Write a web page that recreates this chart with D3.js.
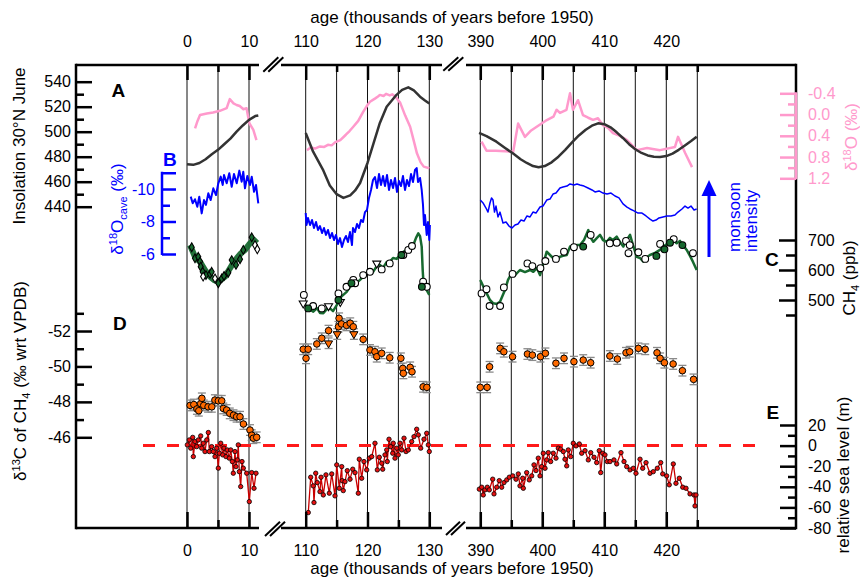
<!DOCTYPE html>
<html><head><meta charset="utf-8">
<script src="https://cdn.jsdelivr.net/npm/d3@7"></script>
<style>body{margin:0;background:#fff} text{font-family:Arial,"Liberation Sans",sans-serif}</style>
</head><body><svg id="c" width="860" height="580"></svg>
<script>
// ---------------- DATA ----------------
const topMajor=[[0,10],[110,120,130],[390,400,410,420]];
const topMinor=[[5],[115,125],[395,405,415,425]];
const gridAges=[0,5,10,110,115,120,125,130,390,395,400,405,410,415,420,425];
const insTicks=[440,460,480,500,520,540];
const blueTicks=[-10,-8,-6];
const pinkTicks=[-0.4,0.0,0.4,0.8,1.2];
const ch4Ticks=[500,600,700];
const d13Ticks=[-52,-50,-48,-46];
const slTicks=[20,0,-20,-40,-60,-80];

const ins1=[[0,474],[1,473.5],[2,475],[3,478],[4,482],[5,485.5],[6,490],[7,494.5],[8,500],[9,505],[10,509.5],[11,512.5],[11.5,513]];
const ins2=[[110,499],[111.2,484],[112.85,469],[113.9,457],[115,450],[116.1,447],[117.2,449],[118,453],[118.8,459],[120,475],[121,491],[122,507],[123.1,520],[124.7,529.5],[125.6,533.5],[126.6,535.5],[127.5,533],[128.5,528],[129.3,525],[130,522.5]];
const ins3=[[389.8,499],[391,496.5],[392.6,492],[394,487],[395.3,482.5],[396.5,478],[397.5,475],[398.5,472.5],[399.4,471.5],[400.4,472.5],[401.5,475.5],[402.6,480],[403.7,485.5],[404.8,491.5],[405.9,497],[407,501.5],[408,504.8],[409,506.7],[410,506],[411,503.5],[412,499.5],[413,495],[414,490],[415,486],[416,483],[417,481],[418,480],[419,479.8],[420,480.5],[421,482.5],[422,485.5],[423,489],[424,492.5],[424.9,496]];

const pink1=[[1.3,0.26],[1.7,0.12],[2.1,0.01],[3.2,-0.02],[4.2,-0.04],[5.3,-0.07],[6.4,-0.12],[6.9,-0.29],[7.5,-0.21],[8.0,-0.18],[8.5,-0.16],[9.1,-0.1],[9.6,-0.12],[10.05,0.16],[10.7,0.29],[11.2,0.48]];
const pink2=[[110.2,0.67],[110.8,0.62],[111.5,0.64],[112.3,0.6],[113,0.61],[113.6,0.57],[114.2,0.58],[114.8,0.52],[115.6,0.48],[116.5,0.38],[117.1,0.31],[117.7,0.23],[118.5,0.12],[119.3,-0.05],[120,-0.18],[120.4,-0.24],[121.2,-0.3],[121.7,-0.34],[122,-0.37],[122.6,-0.35],[123,-0.39],[123.6,-0.36],[124,-0.38],[124.5,-0.34],[125.3,-0.22],[126.1,0.02],[126.9,0.23],[127.5,0.5],[128,0.73],[128.6,0.9],[129.1,0.98],[130,1.01]];
const pink3=[[390.2,0.51],[391,0.68],[392.5,0.68],[394,0.69],[395.3,0.7],[396.1,0.17],[397.2,0.42],[398.2,0.3],[399.1,0.23],[400.5,0.12],[401.8,0.04],[402.3,-0.09],[402.85,-0.03],[403.9,-0.09],[404.47,-0.40],[404.95,-0.09],[405.76,-0.27],[406.56,0.01],[407.4,0.06],[408.18,0.10],[408.98,0.07],[409.79,0.20],[410.6,0.25],[411.4,0.35],[412.5,0.4],[413.66,0.48],[414.5,0.58],[415.27,0.67],[416.89,0.63],[418.98,0.67],[421.4,0.61],[421.89,0.42],[423.02,0.72],[424.15,0.99]];

const cave1=[[0.6,-9.53],[0.92,-9.12],[1.29,-9.37],[1.66,-8.91],[1.98,-9.53],[2.37,-8.5],[2.74,-9.32],[3.06,-9.02],[3.44,-9.74],[3.82,-9.32],[4.24,-10.04],[4.68,-9.63],[5.05,-10.35],[5.44,-10.76],[5.76,-10.25],[5.97,-10.86],[6.4,-10.35],[6.82,-10.97],[7.21,-10.14],[7.58,-10.92],[8.02,-10.35],[8.44,-11.13],[8.82,-10.45],[9.08,-11.06],[9.35,-10.04],[9.73,-10.8],[10.16,-10.25],[10.44,-10.76],[10.81,-9.83],[11.13,-10.25],[11.5,-9.12]];
const cave2=[[110,-8.52],[110.13,-7.78],[110.37,-8.22],[110.7,-7.78],[111.02,-8.09],[111.34,-7.6],[111.67,-7.97],[111.99,-7.48],[112.31,-7.72],[112.64,-7.29],[112.96,-7.6],[113.28,-7.17],[113.61,-7.48],[113.93,-6.98],[114.26,-7.29],[114.58,-6.86],[114.9,-7.17],[115.23,-6.62],[115.55,-6.98],[115.87,-6.43],[116.2,-6.86],[116.52,-7.11],[116.84,-6.74],[117.17,-7.35],[117.49,-6.55],[117.65,-7.6],[117.98,-7.35],[118.3,-7.85],[118.62,-7.6],[118.95,-8.09],[119.27,-7.97],[119.6,-8.58],[119.92,-8.71],[120.24,-9.45],[120.57,-9.94],[120.89,-10.55],[121.21,-10.74],[121.54,-10.06],[121.86,-10.92],[122.18,-10.25],[122.51,-10.8],[122.83,-10.18],[123.16,-10.86],[123.48,-9.94],[123.8,-10.55],[124.13,-10.06],[124.45,-10.68],[124.77,-9.82],[125.1,-10.49],[125.42,-10.18],[125.74,-10.8],[126.07,-9.94],[126.39,-10.55],[126.72,-10.18],[127.04,-10.92],[127.36,-10.43],[127.69,-11.17],[127.96,-11.29],[128.17,-10.43],[128.5,-10.68],[128.77,-9.94],[128.98,-9.02],[129.14,-7.78],[129.3,-8.4],[129.58,-7.17],[129.79,-7.97],[130.0,-6.86],[130.1,-7.78]];
const cave3=[[390,-9.32],[390.44,-9.14],[390.92,-8.83],[391.24,-8.58],[391.56,-9.14],[391.81,-9.45],[392.05,-9.32],[392.29,-8.58],[392.53,-8.95],[392.85,-8.28],[393.18,-8.58],[393.66,-7.91],[394.15,-7.97],[394.63,-7.72],[395.11,-7.6],[395.6,-7.78],[396.08,-7.85],[396.56,-8.09],[397.05,-8.03],[397.53,-8.34],[398.02,-8.28],[398.5,-8.58],[398.98,-8.52],[399.63,-8.89],[400.11,-8.95],[400.71,-9.32],[401.24,-9.38],[401.73,-9.69],[402.21,-9.75],[402.85,-10.06],[403.34,-10.12],[403.98,-10.18],[404.47,-10.31],[405.11,-10.25],[405.6,-10.31],[406.08,-10.25],[406.73,-10.18],[407.37,-10.06],[408.02,-9.94],[408.5,-9.82],[409.15,-9.88],[409.79,-9.75],[410.44,-9.69],[411.08,-9.75],[411.73,-9.57],[412.37,-9.45],[413.02,-9.08],[413.66,-8.89],[414.15,-8.77],[414.79,-8.65],[415.44,-8.52],[416.08,-8.52],[416.73,-8.34],[417.37,-8.15],[417.85,-8.03],[418.34,-8.09],[418.82,-8.22],[419.47,-8.28],[420.11,-8.34],[420.76,-8.34],[421.4,-8.4],[421.89,-8.58],[422.53,-8.77],[423.02,-8.95],[423.5,-8.83],[423.98,-8.95],[424.47,-8.71],[424.9,-8.77]];

const ch4Line1=[[0.48,683],[1.29,644],[2.1,627],[2.9,600],[3.71,578],[4.35,567],[5.0,561],[5.65,570],[6.13,578],[6.77,600],[7.42,622],[8.06,640],[8.71,656],[9.35,667],[10.16,689],[10.81,700],[11.29,690]];
const ch4Line2=[[110,483],[110.53,470],[111.23,461],[111.83,473],[112.31,457],[112.85,456],[113.45,470],[113.93,472],[114.42,463],[115.02,483],[115.55,507],[116.08,517],[116.63,527],[117.17,544],[117.7,553],[118.25,557],[118.79,567],[119.27,577],[119.87,590],[120.4,600],[120.89,593],[121.49,613],[122.02,617],[122.51,607],[123.11,627],[123.64,628],[124.13,640],[124.72,637],[125.26,650],[125.74,660],[126.34,667],[126.88,672],[127.36,680],[127.85,707],[128.22,722],[128.5,713],[128.77,678],[128.93,600],[129.06,556],[129.58,533],[130,517]];
const ch4Line3=[[390,567],[390.6,540],[391.03,522],[391.56,500],[392.1,489],[392.69,487],[393.18,494],[393.98,533],[394.47,567],[395.06,589],[395.6,583],[396.4,600],[397.21,593],[398.02,600],[398.55,594],[399.15,607],[399.63,583],[400.11,617],[400.71,661],[401.24,650],[401.73,640],[402.32,633],[402.85,644],[403.34,647],[403.94,650],[404.47,678],[405.11,680],[405.55,683],[406.08,683],[406.73,700],[407.42,733],[407.81,707],[408.23,694],[408.82,707],[409.31,717],[409.79,700],[410.39,694],[410.92,707],[411.4,700],[412,711],[412.53,693],[413.06,678],[413.61,700],[414.15,717],[414.63,683],[415.23,644],[415.76,640],[416.29,628],[416.89,643],[417.37,650],[418.18,657],[418.98,667],[419.63,680],[420.11,687],[420.6,694],[421.08,700],[421.68,689],[422.21,697],[422.69,683],[423.29,667],[423.82,647],[424.31,627],[424.9,600]];

const ch4Dia1Fill=[[0.76,676],[1.29,639],[1.82,644],[2.1,628],[2.21,611],[2.53,594],[3.06,583],[3.71,587],[3.98,594],[5.05,556],[5.6,572],[5.97,580],[6.66,591],[7.21,633],[7.9,617],[8.55,636],[9.08,667],[10.44,709]];
const ch4Dia1Open=[[2.6,578],[4.52,572],[10.97,683],[11.34,669]];
const ch4Open=[[111.2,480],[112.6,472],[115.3,522],[116.6,544],[117.7,567],[118,556],[119.3,583],[120.4,594],[122.3,602],[123.6,622],[125.8,650],[126.6,667],[127.2,680],[129,561],[129.6,544],[109.7,517],
  [390.2,522],[391,536],[391.5,480],[393.2,480],[393.8,542],[395.2,587],[397.6,622],[398.4,613],[399.7,606],[400.5,630],[402.2,637],[403.5,661],[405.1,676],[407.8,717],[410.9,689],[412,691],[413.5,697],[414.1,683],[413.9,656],[415.5,659],[416.6,637],[419,687],[421.2,703],[424.3,656]];
const ch4OpenTri=[[109.6,489],[113.7,480],[115.6,494],[121.5,622]];
const ch4Fill=[[110.4,472],[115.3,500],[117.4,556],[125.5,650],[128.8,544],[406.6,678],[418.4,647],[419.7,669],[420.6,691],[422.6,683]];

const d13Err=0.3;
const d13c1=[[0.5,-47.8],[1.1,-47.85],[1.6,-47.6],[1.9,-47.5],[2.2,-47.9],[2.4,-48.2],[2.7,-47.8],[3.4,-47.72],[4.0,-47.72],[4.5,-48.1],[5.05,-48.06],[5.6,-48.06],[5.85,-47.63],[6.4,-47.54],[6.9,-47.35],[7.5,-47.25],[8.0,-47.16],[8.55,-47.16],[9.1,-46.75],[10.16,-46.41],[10.44,-46.12],[10.7,-45.95],[11.24,-46.0]];
const d13c2=[[109.6,-50.97],[110.4,-50.97],[110.05,-50.46],[111.8,-51.27],[112.6,-51.59],[113.7,-52.02],[115.4,-52.72],[115.3,-52.24],[115.8,-52.4],[116.6,-52.32],[117.2,-52.44],[117.7,-52.24],[119.3,-51.53],[120.4,-50.93],[121.2,-50.83],[121.5,-50.55],[122.3,-50.74],[123.6,-50.49],[125.4,-50.46],[125.7,-49.89],[125.8,-49.61],[126.9,-49.95],[127.2,-49.7],[129.0,-48.85],[129.6,-48.82]];
const d13c2Tri=[[113.7,-51.31],[115.1,-51.83],[117.8,-51.83]];
const d13c3=[[390.0,-48.82],[391.1,-48.82],[391.5,-49.98],[393.2,-51.02],[393.8,-50.83],[395.2,-50.55],[397.6,-50.7],[398.4,-50.64],[399.7,-50.55],[400.5,-50.74],[402.2,-50.18],[403.5,-50.46],[405.1,-50.27],[406.6,-50.36],[407.8,-50.21],[410.9,-50.59],[412.1,-50.42],[413.5,-50.77],[414.1,-50.83],[415.5,-51.02],[416.6,-50.97],[418.5,-50.77],[419.0,-50.46],[419.7,-50.21],[421.1,-50.14],[422.6,-49.76],[424.4,-49.27]];

const sea1=[[0.05,0.7],[0.37,5.5],[0.6,-2.5],[0.92,8.0],[1.02,-10.7],[1.29,3.9],[1.56,-1.0],[1.82,5.5],[2.21,9.4],[2.37,-2.5],[2.63,2.3],[2.9,-5.8],[3.18,5.5],[3.44,12.7],[3.6,-5.8],[3.98,-1.0],[4.24,-5.8],[4.52,-10.7],[4.79,-2.5],[5.05,-21.9],[5.21,-7.4],[5.44,2.3],[5.76,-9.0],[5.97,-2.5],[6.29,-10.7],[6.5,-4.2],[6.82,-12.2],[7.05,-4.2],[7.31,-15.5],[7.47,-26.8],[7.74,-5.8],[7.9,-20.4],[8.11,-13.9],[8.27,0.7],[8.44,-25.3],[8.66,-39.8],[8.87,-15.5],[9.08,-21.9],[9.63,-26.8],[10.05,-54.4],[10.44,-26.2],[10.81,-41.4],[11.13,-26.8]];
const sea2=[[110.42,-65.0],[110.81,-30.7],[111.23,-39.1],[111.34,-55.3],[111.62,-26.8],[111.88,-35.9],[112.31,-44.7],[112.48,-30.7],[112.85,-47.9],[113.28,-28.4],[113.82,-46.2],[114.21,-27.5],[114.74,-48.8],[115.02,-18.7],[115.44,-41.4],[115.83,-20.4],[115.9,-34.0],[116.08,-43.7],[116.36,-35.0],[116.73,-24.3],[117.17,-32.6],[117.61,-22.9],[117.98,-26.2],[118.51,-46.2],[118.67,-13.2],[119.06,-31.7],[119.43,-15.5],[119.87,-23.6],[120.29,-12.2],[120.68,-10.7],[121.21,2.3],[121.59,-23.6],[121.91,-11.3],[122.3,-17.1],[122.46,-22.9],[122.83,-9.0],[123.11,-4.2],[123.2,-15.5],[123.48,6.2],[123.75,-1.0],[124.08,-7.4],[124.17,2.3],[124.45,-12.2],[124.72,-2.5],[124.98,-9.0],[125.26,2.3],[125.53,-4.2],[125.91,7.2],[126.23,-5.8],[126.6,-4.2],[127.15,3.9],[127.52,8.7],[127.96,15.9],[128.22,10.4],[128.61,-2.5],[129.14,6.2],[129.58,12.0],[129.84,0.7],[130.0,-5.8]];
const sea3=[[389.84,-42.3],[390.23,-40.4],[390.48,-47.9],[390.76,-43.0],[391.13,-40.4],[391.45,-43.0],[392.0,-32.6],[392.21,-46.9],[392.65,-40.4],[393.06,-34.0],[393.45,-40.4],[393.82,-35.9],[394.26,-33.3],[394.68,-30.7],[395.23,-29.4],[395.76,-32.6],[396.13,-27.5],[396.4,-39.1],[396.84,-31.7],[396.94,-41.4],[397.48,-26.2],[397.9,-33.3],[398.29,-29.4],[398.66,-18.7],[398.98,-24.2],[399.35,-12.2],[399.63,-29.4],[399.9,-20.4],[400.16,-7.4],[400.44,-22.0],[400.71,-13.9],[400.97,-6.8],[401.35,-15.5],[401.77,-7.4],[402.21,-12.2],[402.58,-2.5],[402.97,-3.5],[403.39,-5.8],[403.66,-13.2],[403.94,-19.7],[404.19,-4.2],[404.58,-10.7],[405.0,2.3],[405.44,-0.3],[405.97,1.6],[406.35,-7.4],[406.89,-4.9],[407.42,-13.9],[407.81,-6.8],[408.34,-11.3],[408.77,-16.5],[409.19,-4.9],[409.42,-26.2],[409.74,-7.4],[410.11,-9.0],[410.48,-15.5],[410.92,-15.5],[411.56,-13.9],[412.0,-17.8],[412.69,-6.8],[413.18,-15.5],[413.61,-20.4],[414.15,-23.6],[414.68,-22.0],[415.11,-26.9],[415.76,-13.2],[416.19,-22.0],[416.73,-16.5],[417.37,-26.9],[417.9,-25.3],[418.55,-22.0],[419.1,-16.5],[419.42,-27.5],[420.06,-29.4],[420.48,-38.1],[421.13,-17.8],[421.56,-36.6],[422.1,-31.7],[422.65,-40.4],[423.18,-41.4],[423.82,-46.9],[424.47,-47.9],[424.63,-58.6],[424.79,-47.9]];

// ---------------- DRAW ----------------
const svg=d3.select("#c");
const PINK="#ff99cc", BLUE="#0000ff", GREEN="#17692f", ORANGE="#ff6a00";
const xs=[d3.scaleLinear().domain([0,10]).range([187,249]),
          d3.scaleLinear().domain([110,130]).range([305.7,429.3]),
          d3.scaleLinear().domain([390,420]).range([480.3,666.3])];
const X=a=>a<60?xs[0](a):a<300?xs[1](a):xs[2](a);
const yIns=d3.scaleLinear().domain([440,540]).range([206.7,81.7]);
const yBlue=d3.scaleLinear().domain([-11,-6]).range([172.75,254]);
const yPink=d3.scaleLinear().domain([-0.4,1.2]).range([93.3,178.3]);
const yCH4=d3.scaleLinear().domain([450,700]).range([315,240]);
const yD13=d3.scaleLinear().domain([-53,-46]).range([313.3,437.3]);
const ySL=d3.scaleLinear().domain([-80,20]).range([528,425]);
const L=76,R=796,T=65,B=528;
const fmtInt=d=>String(d).replace("−","-");

// grid
svg.append("g").selectAll("line").data(gridAges).join("line")
  .attr("x1",X).attr("x2",X).attr("y1",T).attr("y2",B).attr("stroke","#111").attr("stroke-width",1);

// dashed sea-level zero
svg.append("line").attr("x1",143).attr("x2",757).attr("y1",ySL(0)).attr("y2",ySL(0))
  .attr("stroke","#ff1a1a").attr("stroke-width",3).attr("stroke-dasharray","12,12");

function line(data,y,color,w,op){
  svg.append("path").datum(data).attr("d",d3.line().x(d=>X(d[0])).y(d=>y(d[1])))
    .attr("fill","none").attr("stroke",color).attr("stroke-width",w).attr("stroke-linejoin","round")
    .attr("opacity",op||1);
}
[pink1,pink2,pink3].forEach(d=>line(d,yPink,PINK,2.5));
[ins1,ins2,ins3].forEach(d=>line(d,yIns,"#333",2.5));
[cave1,cave2].forEach(d=>line(d,yBlue,BLUE,2));
line(cave3,yBlue,BLUE,1.5);
line(ch4Line1,yCH4,GREEN,6,0.95);
[ch4Line2,ch4Line3].forEach(d=>line(d,yCH4,GREEN,2.5));

function sym(data,y,type,fill,size,rot,sw){
  svg.append("g").selectAll("path").data(data).join("path")
    .attr("d",d3.symbol().type(type).size(size))
    .attr("transform",d=>`translate(${X(d[0])},${y(d[1])}) rotate(${rot||0})`)
    .attr("fill",fill).attr("stroke","#000").attr("stroke-width",sw||1.1);
}
sym(ch4Dia1Fill,yCH4,d3.symbolDiamond,GREEN,22);
sym(ch4Dia1Open,yCH4,d3.symbolDiamond,"#fff",22);
sym(ch4Open,yCH4,d3.symbolCircle,"#fff",36);
sym(ch4OpenTri,yCH4,d3.symbolTriangle,"#fff",28,180);
sym(ch4Fill,yCH4,d3.symbolCircle,GREEN,36);

// delta13C error bars + markers
const allD13=[...d13c1,...d13c2,...d13c2Tri,...d13c3];
const eg=svg.append("g").attr("stroke","#8a8a8a").attr("stroke-width",1.3);
allD13.forEach(d=>{
  const x=X(d[0]),y0=yD13(d[1]-d13Err),y1=yD13(d[1]+d13Err);
  eg.append("line").attr("x1",x).attr("x2",x).attr("y1",y0).attr("y2",y1);
  eg.append("line").attr("x1",x-4).attr("x2",x+4).attr("y1",y0).attr("y2",y0);
  eg.append("line").attr("x1",x-4).attr("x2",x+4).attr("y1",y1).attr("y2",y1);
});
sym([...d13c1,...d13c2,...d13c3],yD13,d3.symbolCircle,ORANGE,34,0,1);
sym(d13c2Tri,yD13,d3.symbolTriangle,ORANGE,28,180,1);

// sea level
[sea1,sea2,sea3].forEach(d=>line(d,ySL,"#c80000",1.3));
svg.append("g").selectAll("circle").data([...sea1,...sea2,...sea3]).join("circle")
  .attr("cx",d=>X(d[0])).attr("cy",d=>ySL(d[1])).attr("r",2.2)
  .attr("fill","#e81010").attr("stroke","#000").attr("stroke-width",0.8);

// ---------- axes ----------
const tickStyle=(g,color)=>{g.select(".domain").remove();
  g.selectAll(".tick line").attr("stroke",color||"#000").attr("stroke-width",2.5);
  g.selectAll(".tick text").attr("fill",color||"#000").attr("font-size",16).attr("font-family","Arial, 'Liberation Sans', sans-serif");};
xs.forEach((s,i)=>{
  svg.append("g").attr("transform",`translate(0,${T})`).call(d3.axisTop(s).tickValues(topMajor[i]).tickSize(-15).tickPadding(18).tickFormat(fmtInt)).call(tickStyle);
  svg.append("g").attr("transform",`translate(0,${T})`).call(d3.axisTop(s).tickValues(topMinor[i]).tickSize(-7).tickFormat("")).call(tickStyle);
  svg.append("g").attr("transform",`translate(0,${B})`).call(d3.axisBottom(s).tickValues(topMajor[i]).tickSize(-16).tickPadding(17).tickFormat(fmtInt)).call(tickStyle);
  svg.append("g").attr("transform",`translate(0,${B})`).call(d3.axisBottom(s).tickValues(topMinor[i]).tickSize(-8).tickFormat("")).call(tickStyle);
});
// left insolation
svg.append("g").attr("transform",`translate(${L},0)`).call(d3.axisLeft(yIns).tickValues(insTicks).tickSize(-16).tickPadding(5).tickFormat(fmtInt)).call(tickStyle);
svg.append("g").attr("transform",`translate(${L},0)`).call(d3.axisLeft(yIns).tickValues([450,470,490,510,530]).tickSize(-8).tickFormat("")).call(tickStyle);
// left d13C
svg.append("g").attr("transform",`translate(${L},0)`).call(d3.axisLeft(yD13).tickValues(d13Ticks).tickSize(-16).tickPadding(5).tickFormat(fmtInt)).call(tickStyle);
svg.append("g").attr("transform",`translate(${L},0)`).call(d3.axisLeft(yD13).tickValues([-53,-51,-49,-47]).tickSize(-8).tickFormat("")).call(tickStyle);
// blue axis
const bx=162;
svg.append("line").attr("x1",bx).attr("x2",bx).attr("y1",yBlue(-11)-1).attr("y2",yBlue(-6)+1).attr("stroke",BLUE).attr("stroke-width",2.5);
svg.append("g").attr("transform",`translate(${bx},0)`).call(d3.axisLeft(yBlue).tickValues(blueTicks).tickSize(-14).tickPadding(7).tickFormat(fmtInt)).call(g=>tickStyle(g,BLUE));
svg.append("g").attr("transform",`translate(${bx},0)`).call(d3.axisLeft(yBlue).tickValues([-11]).tickSize(-14).tickFormat("")).call(g=>tickStyle(g,BLUE));
svg.append("g").attr("transform",`translate(${bx},0)`).call(d3.axisLeft(yBlue).tickValues([-9,-7]).tickSize(-8).tickFormat("")).call(g=>tickStyle(g,BLUE));

// frame
const fr=svg.append("g").attr("stroke","#000").attr("stroke-width",2.5).attr("fill","none");
[[L,259],[281,442],[466,R]].forEach(s=>{
  fr.append("line").attr("x1",s[0]).attr("x2",s[1]).attr("y1",T).attr("y2",T);
  fr.append("line").attr("x1",s[0]).attr("x2",s[1]).attr("y1",B).attr("y2",B);
});
fr.append("line").attr("x1",L).attr("x2",L).attr("y1",T-1.2).attr("y2",B+1.2);
fr.append("line").attr("x1",R).attr("x2",R).attr("y1",T-1.2).attr("y2",B+1.2);
const slashes=[[263.3,71.7,278.3,57.3],[268.3,71.7,283.3,57.3],[443.3,70.7,458.3,57.3],[448.3,70.7,463.3,57.3],
  [265,536,280,521.7],[270,536,285,521.7],[446,535,460,521.7],[451,535,465,521.7]];
slashes.forEach(s=>fr.append("line").attr("x1",s[0]).attr("y1",s[1]).attr("x2",s[2]).attr("y2",s[3]).attr("stroke-width",2));

// right axes
svg.append("line").attr("x1",R).attr("x2",R).attr("y1",yPink(-0.4)-1).attr("y2",yPink(1.2)+1).attr("stroke",PINK).attr("stroke-width",2.5);
svg.append("g").attr("transform",`translate(${R},0)`).call(d3.axisRight(yPink).tickValues(pinkTicks).tickSize(-16).tickPadding(12).tickFormat(d=>d3.format(".1f")(d).replace("−","-"))).call(g=>tickStyle(g,PINK));
svg.append("g").attr("transform",`translate(${R},0)`).call(d3.axisRight(yPink).tickValues([-0.2,0.2,0.6,1.0]).tickSize(-8).tickFormat("")).call(g=>tickStyle(g,PINK));
svg.append("g").attr("transform",`translate(${R},0)`).call(d3.axisRight(yCH4).tickValues(ch4Ticks).tickSize(-17).tickPadding(12).tickFormat(fmtInt)).call(tickStyle);
svg.append("g").attr("transform",`translate(${R},0)`).call(d3.axisRight(yCH4).tickValues([450,550,650]).tickSize(-10).tickFormat("")).call(tickStyle);
svg.append("g").attr("transform",`translate(${R},0)`).call(d3.axisRight(ySL).tickValues(slTicks).tickSize(-16).tickPadding(12).tickFormat(fmtInt)).call(tickStyle);
svg.append("g").attr("transform",`translate(${R},0)`).call(d3.axisRight(ySL).tickValues([10,-10,-30,-50,-70]).tickSize(-8).tickFormat("")).call(tickStyle);

// ---------- text ----------
function rtext(x,y,parts,color,anchor,fs){
  fs=fs||17;
  const t=svg.append("text").attr("transform",`translate(${x},${y}) rotate(-90)`)
    .attr("text-anchor",anchor||"middle").attr("fill",color||"#000").attr("font-size",fs);
  let shift=0;
  parts.forEach(p=>{
    const [s,k]=typeof p==="string"?[p,"n"]:p;
    const target=k==="sup"?-6:k==="sub"?4:0;
    t.append("tspan").attr("dy",target-shift).attr("font-size",k==="n"?fs:11).text(s);
    shift=target;
  });
}
rtext(25,146,["Insolation 30°N June"]);
rtext(123,209,["δ",["18","sup"],"O",["cave","sub"]," (‰)"],BLUE);
rtext(26,381,["δ",["13","sup"],"C of CH",["4","sub"]," (‰ wrt VPDB)"]);
rtext(857,137,["δ",["18","sup"],"O (‰)"],PINK);
rtext(855,278,["CH",["4","sub"]," (ppb)"]);
rtext(849,475,["relative sea level (m)"]);
rtext(740,252,["monsoon"],BLUE,"start");
rtext(757,252,["intensity"],BLUE,"start");

const ttl="age (thousands of years before 1950)";
svg.append("text").attr("x",452).attr("y",23).attr("text-anchor","middle").attr("font-size",17).text(ttl);
svg.append("text").attr("x",452).attr("y",574).attr("text-anchor","middle").attr("font-size",17).text(ttl);

const letters=[["A",111.5,96.5,"#000"],["B",163,165.5,BLUE],["C",765,266,"#000"],["D",113,330,"#000"],["E",766.5,419,"#000"]];
letters.forEach(l=>svg.append("text").attr("x",l[1]).attr("y",l[2]).attr("fill",l[3]).attr("font-size",19).attr("font-weight","bold").text(l[0]));

// monsoon arrow
svg.append("line").attr("x1",709).attr("x2",709).attr("y1",257).attr("y2",194).attr("stroke",BLUE).attr("stroke-width",3);
svg.append("path").attr("d","M709,180 L701.5,196 L716.5,196 Z").attr("fill",BLUE);
</script></body></html>
